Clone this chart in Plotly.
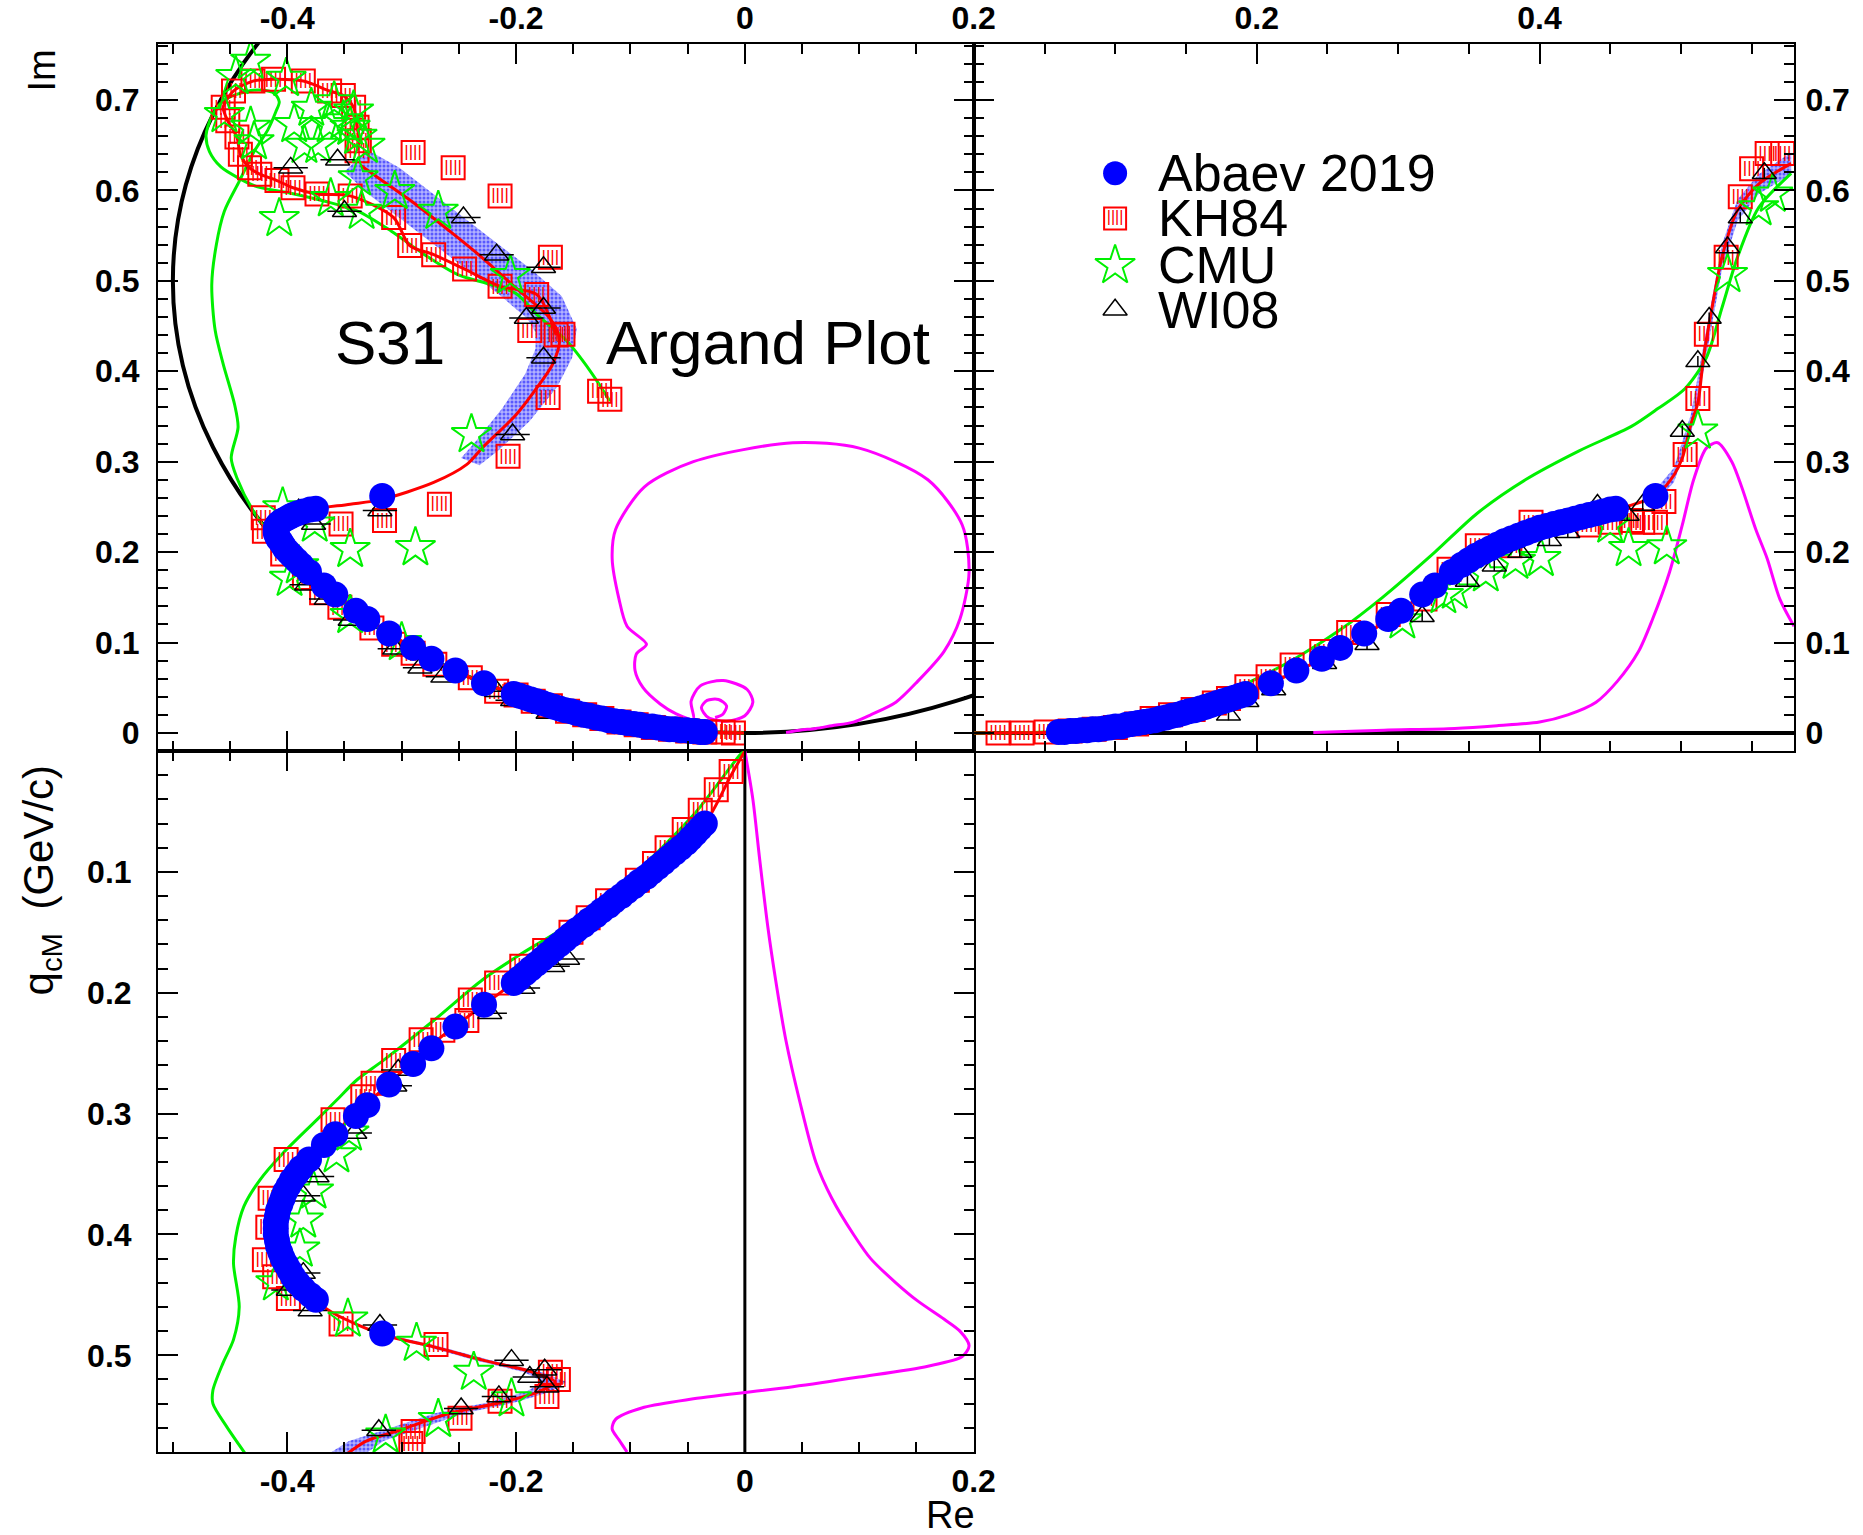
import plotly.graph_objects as go

# ---------------- data ----------------
# Abaev 2019 points: q_cm, Re, Im
abaev_q = [0.060,0.064,0.068,0.072,0.076,0.080,0.084,0.088,0.092,0.096,0.100,0.104,0.108,0.112,0.116,0.120,0.124,0.128,0.132,0.136,0.140,0.144,0.148,0.152,0.156,0.160,0.164,0.168,0.172,0.176,0.180,0.184,0.188,0.192,0.210,0.228,0.246,0.259,0.276,0.293,0.302,0.317,0.326,0.338,0.345,0.350,0.355,0.360,0.365,0.370,0.375,0.380,0.385,0.390,0.395,0.400,0.405,0.410,0.415,0.420,0.425,0.430,0.435,0.440,0.445,0.450,0.454,0.482]
abaev_re = [-0.035,-0.039,-0.043,-0.047,-0.051,-0.056,-0.061,-0.066,-0.071,-0.076,-0.081,-0.086,-0.092,-0.097,-0.103,-0.108,-0.114,-0.119,-0.125,-0.130,-0.136,-0.141,-0.147,-0.152,-0.157,-0.162,-0.167,-0.172,-0.177,-0.182,-0.187,-0.192,-0.197,-0.202,-0.228,-0.253,-0.274,-0.290,-0.311,-0.330,-0.340,-0.358,-0.368,-0.381,-0.388,-0.392,-0.396,-0.399,-0.402,-0.404,-0.406,-0.408,-0.409,-0.410,-0.410,-0.410,-0.409,-0.408,-0.406,-0.404,-0.401,-0.398,-0.395,-0.391,-0.386,-0.380,-0.375,-0.317]
abaev_im = [0.001,0.001,0.002,0.002,0.003,0.003,0.004,0.004,0.005,0.006,0.007,0.007,0.009,0.010,0.011,0.012,0.013,0.014,0.016,0.017,0.019,0.020,0.022,0.024,0.025,0.027,0.029,0.031,0.033,0.035,0.037,0.039,0.041,0.043,0.055,0.069,0.082,0.094,0.110,0.126,0.135,0.153,0.163,0.178,0.186,0.191,0.196,0.200,0.204,0.208,0.212,0.215,0.218,0.221,0.224,0.227,0.229,0.231,0.233,0.235,0.237,0.239,0.241,0.243,0.245,0.247,0.248,0.262]

# Magenta curve: q_cm, Re, Im  (+ Argand-only continuation)
mag_q  = [0.0,0.04,0.09,0.145,0.19,0.24,0.29,0.34,0.37,0.40,0.42,0.44,0.455,0.47,0.48,0.492,0.501,0.509,0.518,0.526,0.536,0.543,0.553,0.561,0.57,0.58]
mag_re = [0.0,0.007,0.013,0.020,0.027,0.036,0.048,0.062,0.076,0.095,0.110,0.132,0.151,0.174,0.188,0.196,0.190,0.160,0.100,0.042,-0.045,-0.088,-0.113,-0.116,-0.110,-0.103]
mag_im = [0.0,0.0,0.0,0.0,0.0,0.0005,0.003,0.005,0.008,0.012,0.020,0.034,0.057,0.090,0.126,0.178,0.230,0.280,0.315,0.321,0.300,0.272,0.225,0.193,0.148,0.118]
mag_tail_re = [-0.086,-0.095,-0.096,-0.089,-0.074,-0.060,-0.045,-0.047,-0.039,-0.019,0.002,0.007,0.000,-0.016,-0.032,-0.038,-0.033,-0.023,-0.016,-0.019,-0.026]
mag_tail_im = [0.098,0.087,0.069,0.050,0.032,0.021,0.015,0.035,0.052,0.058,0.048,0.034,0.019,0.013,0.017,0.028,0.036,0.037,0.030,0.021,0.017]

# Red curve
red_arg_re = [0.0,-0.035,-0.06,-0.09,-0.12,-0.15,-0.18,-0.2,-0.23,-0.26,-0.29,-0.32,-0.35,-0.375,-0.395,-0.408,-0.41,-0.4,-0.375,-0.345,-0.318,-0.272,-0.243,-0.229,-0.2,-0.18,-0.168,-0.162,-0.17,-0.2,-0.229,-0.258,-0.287,-0.316,-0.336]
red_arg_im = [0.0,0.001,0.004,0.008,0.015,0.023,0.034,0.042,0.056,0.072,0.094,0.118,0.145,0.17,0.195,0.215,0.228,0.242,0.248,0.253,0.258,0.277,0.297,0.316,0.352,0.385,0.408,0.435,0.458,0.492,0.525,0.555,0.584,0.61,0.628]
red_bl_q  = [0.0,0.02,0.06,0.10,0.15,0.19,0.24,0.29,0.33,0.36,0.39,0.42,0.45,0.465,0.483,0.493,0.504,0.514,0.522,0.530,0.539,0.548,0.562,0.571,0.581]
red_bl_re = [0.0,-0.012,-0.035,-0.080,-0.150,-0.200,-0.270,-0.328,-0.374,-0.399,-0.410,-0.403,-0.381,-0.360,-0.316,-0.272,-0.229,-0.185,-0.166,-0.180,-0.213,-0.258,-0.302,-0.331,-0.347]
red_tr_q  = [0.0,0.06,0.10,0.15,0.19,0.24,0.29,0.33,0.36,0.39,0.42,0.45,0.465,0.482,0.495,0.501,0.507,0.512,0.516,0.522,0.529,0.540,0.555,0.578]
red_tr_im = [0.0,0.001,0.007,0.024,0.043,0.077,0.122,0.168,0.200,0.222,0.235,0.246,0.252,0.262,0.285,0.304,0.341,0.365,0.415,0.470,0.526,0.578,0.607,0.630]

# Abaev error band
band_arg_out_re = [-0.232,-0.215,-0.188,-0.164,-0.151,-0.147,-0.160,-0.186,-0.215,-0.244,-0.273,-0.302,-0.330]
band_arg_out_im = [0.296,0.313,0.345,0.383,0.415,0.447,0.483,0.512,0.540,0.568,0.597,0.625,0.645]
band_arg_in_re  = [-0.248,-0.235,-0.212,-0.192,-0.183,-0.183,-0.190,-0.214,-0.243,-0.272,-0.301,-0.330,-0.350]
band_arg_in_im  = [0.304,0.323,0.359,0.397,0.425,0.443,0.458,0.484,0.512,0.540,0.569,0.597,0.621]
band_bl_q  = [0.483,0.493,0.504,0.514,0.522,0.530,0.539,0.548,0.562,0.571,0.581]
band_bl_lo = [-0.321,-0.278,-0.236,-0.193,-0.176,-0.191,-0.225,-0.271,-0.316,-0.346,-0.363]
band_bl_hi = [-0.311,-0.266,-0.222,-0.177,-0.156,-0.169,-0.201,-0.245,-0.288,-0.316,-0.331]
band_tr_q  = [0.482,0.495,0.507,0.516,0.529,0.540,0.555,0.578]
band_tr_lo = [0.255,0.277,0.330,0.400,0.512,0.566,0.596,0.618]
band_tr_hi = [0.269,0.293,0.352,0.430,0.540,0.590,0.618,0.642]

# Green (CMU) curve
green_arg_re = [0.0,-0.05,-0.1,-0.15,-0.2,-0.25,-0.3,-0.35,-0.39,-0.415,-0.43,-0.444,-0.449,-0.443,-0.446,-0.456,-0.463,-0.466,-0.462,-0.455,-0.442,-0.429,-0.417,-0.41,-0.407,-0.411,-0.423,-0.437,-0.455,-0.466,-0.471,-0.468,-0.458,-0.443,-0.426,-0.397,-0.367,-0.338,-0.309,-0.28,-0.251,-0.222,-0.2,-0.182,-0.156,-0.135,-0.118]
green_arg_im = [0.0,0.0025,0.01,0.023,0.042,0.067,0.1,0.143,0.187,0.22,0.246,0.282,0.304,0.338,0.363,0.408,0.445,0.496,0.54,0.577,0.61,0.643,0.667,0.687,0.698,0.707,0.711,0.709,0.7,0.682,0.661,0.643,0.626,0.614,0.604,0.597,0.588,0.577,0.555,0.529,0.507,0.496,0.486,0.463,0.434,0.4,0.367]
green_bl_q  = [0.0,0.003,0.053,0.107,0.145,0.167,0.189,0.223,0.256,0.272,0.289,0.305,0.333,0.355,0.377,0.402,0.424,0.46,0.487,0.506,0.529,0.54,0.559,0.581]
green_bl_re = [0.0,-0.004,-0.045,-0.103,-0.156,-0.194,-0.229,-0.272,-0.316,-0.339,-0.357,-0.374,-0.404,-0.424,-0.438,-0.445,-0.447,-0.442,-0.447,-0.456,-0.465,-0.465,-0.453,-0.437]
green_tr_q  = [0.0,0.05,0.10,0.15,0.20,0.229,0.259,0.289,0.326,0.356,0.39,0.428,0.465,0.484,0.503,0.518,0.529,0.54,0.555,0.578]
green_tr_im = [0.0,0.001,0.008,0.027,0.060,0.084,0.114,0.150,0.200,0.243,0.280,0.312,0.339,0.359,0.381,0.415,0.470,0.526,0.581,0.619]

# KH84 points
kh84_low_re = [-0.010,-0.019,-0.035,-0.050,-0.065,-0.080,-0.095,-0.110,-0.125,-0.140,-0.155,-0.170,-0.185,-0.200,-0.217,-0.240,-0.271,-0.290,-0.307,-0.326,-0.354,-0.370,-0.385,-0.404,-0.420,-0.421]
kh84_low_im = [0.000,0.001,0.001,0.002,0.004,0.006,0.009,0.012,0.016,0.020,0.024,0.030,0.035,0.042,0.046,0.061,0.076,0.088,0.098,0.116,0.139,0.155,0.172,0.198,0.223,0.238]
kh84_mid_re = [-0.353,-0.315,-0.267,-0.207,-0.172,-0.127,-0.118,-0.159,-0.188,-0.170,-0.214,-0.255,-0.290]
kh84_mid_im = [0.231,0.235,0.253,0.306,0.371,0.378,0.369,0.441,0.445,0.526,0.594,0.625,0.642]
kh84_path_re = [-0.165,-0.182,-0.214,-0.245,-0.272,-0.293,-0.307,-0.345,-0.374,-0.395,-0.409,-0.424,-0.433,-0.441,-0.444,-0.452,-0.456,-0.447,-0.43,-0.412,-0.386,-0.363,-0.351,-0.342,-0.339,-0.337,-0.339]
kh84_path_im = [0.44,0.485,0.494,0.513,0.529,0.539,0.57,0.594,0.596,0.603,0.611,0.618,0.625,0.64,0.659,0.677,0.692,0.71,0.721,0.723,0.721,0.71,0.705,0.692,0.67,0.655,0.644]
kh84_tr_q  = [0.017,0.034,0.051,0.068,0.085,0.100,0.115,0.126,0.139,0.155,0.170,0.180,0.193,0.208,0.225,0.246,0.265,0.293,0.319,0.336,0.356,0.379,0.394,0.435,0.450,0.465,0.473,0.482,0.488,0.503,0.512,0.518,0.532,0.542,0.550,0.561,0.572]
kh84_tr_im = [0.000,0.000,0.001,0.002,0.004,0.006,0.010,0.016,0.020,0.026,0.033,0.038,0.051,0.062,0.075,0.090,0.111,0.131,0.148,0.181,0.207,0.207,0.233,0.230,0.233,0.235,0.233,0.233,0.256,0.308,0.370,0.441,0.526,0.593,0.624,0.641,0.641]
kh84_bl_q  = [0.017,0.032,0.049,0.065,0.080,0.093,0.107,0.124,0.138,0.150,0.165,0.178,0.192,0.206,0.223,0.231,0.239,0.256,0.275,0.286,0.305,0.338,0.370,0.394,0.421,0.435,0.453,0.474,0.491,0.514,0.520,0.534,0.538,0.552,0.563,0.573]
kh84_bl_re = [-0.012,-0.025,-0.039,-0.053,-0.068,-0.079,-0.094,-0.120,-0.137,-0.152,-0.175,-0.195,-0.217,-0.240,-0.243,-0.264,-0.283,-0.307,-0.325,-0.334,-0.360,-0.401,-0.415,-0.417,-0.420,-0.411,-0.399,-0.353,-0.270,-0.170,-0.163,-0.173,-0.214,-0.249,-0.290,-0.292]

# CMU points
cmu_arg_re = [-0.300,-0.345,-0.390,-0.398,-0.376,-0.404,-0.345,-0.288,-0.239,-0.205,-0.268,-0.306,-0.335,-0.338,-0.362,-0.407,-0.432,-0.445,-0.455,-0.432,-0.429,-0.401,-0.394,-0.379,-0.385,-0.373,-0.359,-0.351,-0.345,-0.339,-0.332,-0.363,-0.342]
cmu_arg_im = [0.100,0.130,0.185,0.171,0.231,0.249,0.203,0.205,0.330,0.506,0.577,0.599,0.577,0.614,0.591,0.569,0.743,0.726,0.684,0.670,0.654,0.724,0.673,0.691,0.650,0.650,0.698,0.677,0.670,0.660,0.650,0.673,0.688]
cmu_tr_q  = [0.303,0.332,0.340,0.362,0.383,0.401,0.450,0.463,0.490,0.512,0.533,0.555,0.565]
cmu_tr_im = [0.124,0.152,0.157,0.176,0.190,0.193,0.230,0.204,0.206,0.334,0.507,0.581,0.596]
cmu_bl_q  = [0.316,0.334,0.364,0.388,0.412,0.440,0.470,0.490,0.514,0.536,0.553,0.566]
cmu_bl_re = [-0.346,-0.357,-0.377,-0.386,-0.389,-0.410,-0.347,-0.287,-0.237,-0.204,-0.268,-0.314]

# WI08 points
wi08_arg_re = [-0.172,-0.203,-0.217,-0.264,-0.284,-0.306,-0.345,-0.366,-0.383,-0.390,-0.377,-0.319,-0.203,-0.176,-0.191,-0.176,-0.176,-0.217,-0.246,-0.350,-0.356,-0.397]
wi08_arg_im = [0.022,0.036,0.046,0.062,0.072,0.093,0.125,0.148,0.164,0.247,0.231,0.246,0.330,0.415,0.459,0.470,0.515,0.529,0.570,0.577,0.634,0.625]
wi08_tr_q  = [0.180,0.193,0.212,0.248,0.278,0.317,0.349,0.368,0.386,0.407,0.420,0.441,0.462,0.473,0.501,0.512,0.520,0.533,0.542,0.559]
wi08_tr_im = [0.020,0.035,0.048,0.077,0.098,0.129,0.168,0.185,0.200,0.213,0.222,0.252,0.241,0.252,0.334,0.411,0.459,0.537,0.570,0.619]
wi08_bl_q  = [0.172,0.178,0.196,0.217,0.264,0.277,0.316,0.352,0.368,0.432,0.446,0.463,0.475,0.504,0.512,0.518,0.526,0.534,0.544,0.562]
wi08_bl_re = [-0.155,-0.168,-0.194,-0.223,-0.303,-0.306,-0.341,-0.374,-0.386,-0.386,-0.399,-0.380,-0.319,-0.204,-0.175,-0.188,-0.173,-0.215,-0.248,-0.320]

legend_labels = ["Abaev 2019", "KH84", "CMU", "WI08"]

# ---------------- styles ----------------
RED, GREEN, BLUE, MAG, BLACK = "rgb(255,0,0)", "rgb(0,240,0)", "rgb(0,0,255)", "rgb(255,0,255)", "black"
FONT = "Liberation Sans"
P1, P2, P3 = ("x", "y"), ("x2", "y2"), ("x3", "y3")

fig = go.Figure()

def add(x, y, panel, **kw):
    fig.add_trace(go.Scatter(x=list(x), y=list(y), xaxis=panel[0], yaxis=panel[1],
                             showlegend=False, hoverinfo="skip", **kw))

def curve(color, width=3):
    return dict(mode="lines", line=dict(color=color, width=width, shape="spline", smoothing=0.8))

band_style = dict(mode="lines", fill="toself", line=dict(width=0),
                  fillcolor="rgb(165,165,255)",
                  fillpattern=dict(shape=".", fgcolor="rgb(0,0,255)", bgcolor="rgb(178,178,255)", size=4, solidity=0.45))
# bands
add(band_arg_out_re + band_arg_in_re[::-1], band_arg_out_im + band_arg_in_im[::-1], P1, **band_style)
add(band_tr_q + band_tr_q[::-1], band_tr_hi + band_tr_lo[::-1], P2, **band_style)
add(band_bl_lo + band_bl_hi[::-1], band_bl_q + band_bl_q[::-1], P3, **band_style)

# magenta
start = 5
add(mag_re[start:] + mag_tail_re, mag_im[start:] + mag_tail_im, P1, **curve(MAG))
add(mag_q[start:], mag_im[start:], P2, **curve(MAG))
add(mag_re, mag_q, P3, **curve(MAG))

# green
add(green_arg_re, green_arg_im, P1, **curve(GREEN))
add(green_tr_q, green_tr_im, P2, **curve(GREEN))
add(green_bl_re, green_bl_q, P3, **curve(GREEN))

# red
add(red_arg_re, red_arg_im, P1, **curve(RED))
add(kh84_path_re, kh84_path_im, P1, **curve(RED))
add(red_tr_q, red_tr_im, P2, **curve(RED))
add(red_bl_re, red_bl_q, P3, **curve(RED))

# KH84 markers (open square with vertical hatching)
kh_sets = [(kh84_low_re + kh84_mid_re + kh84_path_re, kh84_low_im + kh84_mid_im + kh84_path_im, P1),
           (kh84_tr_q, kh84_tr_im, P2), (kh84_bl_re, kh84_bl_q, P3)]
for xs, ys, p in kh_sets:
    add(xs, ys, p, mode="markers", marker=dict(symbol="square-open", size=23, color=RED, line=dict(color=RED, width=2)))
    add(xs, ys, p, mode="text", text=["||||"] * len(xs), textposition="middle center",
        textfont=dict(family=FONT, size=17, color=RED))

# CMU markers
for xs, ys, p in [(cmu_arg_re, cmu_arg_im, P1), (cmu_tr_q, cmu_tr_im, P2), (cmu_bl_re, cmu_bl_q, P3)]:
    add(xs, ys, p, mode="markers", marker=dict(symbol="star-open", size=30, color=GREEN, line=dict(color=GREEN, width=2)))

# WI08 markers
tri = dict(symbol="triangle-up-open", size=21, color=BLACK, line=dict(color=BLACK, width=1.5))
add(wi08_arg_re, wi08_arg_im, P1, mode="markers", marker=tri,
    error_x=dict(type="constant", value=0.015, color=BLACK, thickness=1.5, width=0))
add(wi08_tr_q, wi08_tr_im, P2, mode="markers", marker=tri,
    error_y=dict(type="constant", value=0.006, color=BLACK, thickness=1.5, width=0))
add(wi08_bl_re, wi08_bl_q, P3, mode="markers", marker=tri,
    error_x=dict(type="constant", value=0.015, color=BLACK, thickness=1.5, width=0))

# Abaev markers
abaev_style = dict(mode="markers", marker=dict(symbol="circle", size=26, color=BLUE, line=dict(width=0)))
add(abaev_re, abaev_im, P1, **abaev_style)
add(abaev_q, abaev_im, P2, **abaev_style)
add(abaev_re, abaev_q, P3, **abaev_style)

# ---------------- legend (drawn manually inside the right panel) ----------------
leg_x_mark, leg_x_text = 0.0998, 0.1285
leg_y = [0.619, 0.569, 0.517, 0.468]
leg_markers = [dict(symbol="circle", size=24, color=BLUE, line=dict(width=0)),
               dict(symbol="square-open", size=22, color=RED, line=dict(color=RED, width=2)),
               dict(symbol="star-open", size=30, color=GREEN, line=dict(color=GREEN, width=2)),
               dict(symbol="triangle-up-open", size=21, color=BLACK, line=dict(color=BLACK, width=1.5))]
for yy, mk in zip(leg_y, leg_markers):
    add([leg_x_mark], [yy], P2, mode="markers", marker=mk)
add([leg_x_mark], [leg_y[1]], P2, mode="text", text=["||||"], textposition="middle center",
    textfont=dict(family=FONT, size=16, color=RED))

annotations = []
for yy, lab in zip(leg_y, legend_labels):
    annotations.append(dict(x=leg_x_text, y=yy, xref="x2", yref="y2", text=lab, showarrow=False,
                            xanchor="left", yanchor="middle", font=dict(family=FONT, size=52, color="black")))

annotations += [
    dict(x=-0.31, y=0.432, xref="x", yref="y", text="S31", showarrow=False,
         xanchor="center", yanchor="middle", font=dict(family=FONT, size=62, color="black")),
    dict(x=0.02, y=0.432, xref="x", yref="y", text="Argand Plot", showarrow=False,
         xanchor="center", yanchor="middle", font=dict(family=FONT, size=62, color="black")),
    dict(x=0.0225, y=0.954, xref="paper", yref="paper", text="Im", textangle=-90, showarrow=False,
         xanchor="center", yanchor="middle", font=dict(family=FONT, size=38, color="black")),
    dict(x=0.0225, y=0.427, xref="paper", yref="paper", text="q<sub>cM</sub>  (GeV/c)", textangle=-90,
         showarrow=False, xanchor="center", yanchor="middle", font=dict(family=FONT, size=42, color="black")),
    dict(x=0.51, y=0.013, xref="paper", yref="paper", text="Re", showarrow=False,
         xanchor="center", yanchor="middle", font=dict(family=FONT, size=38, color="black")),
]

shapes = [
    dict(type="circle", xref="x", yref="y", x0=-0.5, x1=0.5, y0=0.0, y1=1.0,
         line=dict(color="black", width=4), layer="below"),
    dict(type="line", xref="x2", yref="y2", x0=0.0, x1=0.58, y0=0.0, y1=0.0,
         line=dict(color="black", width=4), layer="below"),
    dict(type="line", xref="x3", yref="y3", x0=0.0, x1=0.0, y0=0.0, y1=0.58,
         line=dict(color="black", width=3), layer="below"),
]

# ---------------- axes ----------------
tickfont = dict(family=FONT, size=32, color="black", weight="bold")
def axis(**kw):
    base = dict(showline=True, linecolor="black", linewidth=2, mirror="ticks", ticks="inside",
                ticklen=20, tickwidth=2, tickcolor="black", showgrid=False, zeroline=False,
                tickfont=tickfont, tickmode="array", fixedrange=True)
    base.update(kw)
    return base

re_vals = [-0.4, -0.2, 0.0, 0.2]
re_text = ["-0.4", "-0.2", "0", "0.2"]
im_vals = [0.0, 0.1, 0.2, 0.3, 0.4, 0.5, 0.6, 0.7]
im_text = ["0", "0.1", "0.2", "0.3", "0.4", "0.5", "0.6", "0.7"]
minor_x = dict(ticks="inside", ticklen=10, tickwidth=2, tickcolor="black", dtick=0.05, tick0=0.0, showgrid=False)
minor_y = dict(ticks="inside", ticklen=10, tickwidth=2, tickcolor="black", dtick=0.02, tick0=0.0, showgrid=False)

dx1 = [158 / 1863, 974 / 1863]
dx2 = [974 / 1863, 1794 / 1863]
dy_top = [784 / 1535, 1491 / 1535]
dy_bot = [83 / 1535, 784 / 1535]
re_range = [-0.513, 0.2003]
im_range = [-0.02, 0.762]

fig.update_layout(
    width=1863, height=1535, autosize=False, margin=dict(l=0, r=0, t=0, b=0, autoexpand=False),
    paper_bgcolor="white", plot_bgcolor="white", showlegend=False,
    xaxis=axis(domain=dx1, range=re_range, side="top", anchor="y", tickvals=re_vals, ticktext=re_text,
               minor=minor_x, ticklabelstandoff=0),
    yaxis=axis(domain=dy_top, range=im_range, anchor="x", tickvals=im_vals, ticktext=im_text,
               minor=minor_y, ticklabelstandoff=10),
    xaxis2=axis(domain=dx2, range=[0.0, 0.58], side="top", anchor="y2", tickvals=[0.2, 0.4],
                ticktext=["0.2", "0.4"], minor=minor_x, ticklabelstandoff=0),
    yaxis2=axis(domain=dy_top, range=im_range, side="right", anchor="x2", tickvals=im_vals, ticktext=im_text,
                minor=minor_y, ticklabelstandoff=3),
    xaxis3=axis(domain=dx1, range=re_range, side="bottom", anchor="y3", tickvals=re_vals, ticktext=re_text,
                minor=minor_x, ticklabelstandoff=0),
    yaxis3=axis(domain=dy_bot, range=[0.58, 0.0], anchor="x3", tickvals=[0.1, 0.2, 0.3, 0.4, 0.5],
                ticktext=["0.1", "0.2", "0.3", "0.4", "0.5"], minor=minor_y, ticklabelstandoff=18),
    annotations=annotations, shapes=shapes,
)

# keep the page from scrolling so the figure is laid out at its full size
post = ("document.documentElement.style.margin='0';document.documentElement.style.overflow='hidden';"
        "document.body.style.margin='0';document.body.style.overflow='hidden';"
        "var gd=document.getElementById('{plot_id}');"
        "Plotly.relayout(gd,{width:1863,height:1535});")
fig.write_html("out.html", config={"responsive": False}, post_script=post)
